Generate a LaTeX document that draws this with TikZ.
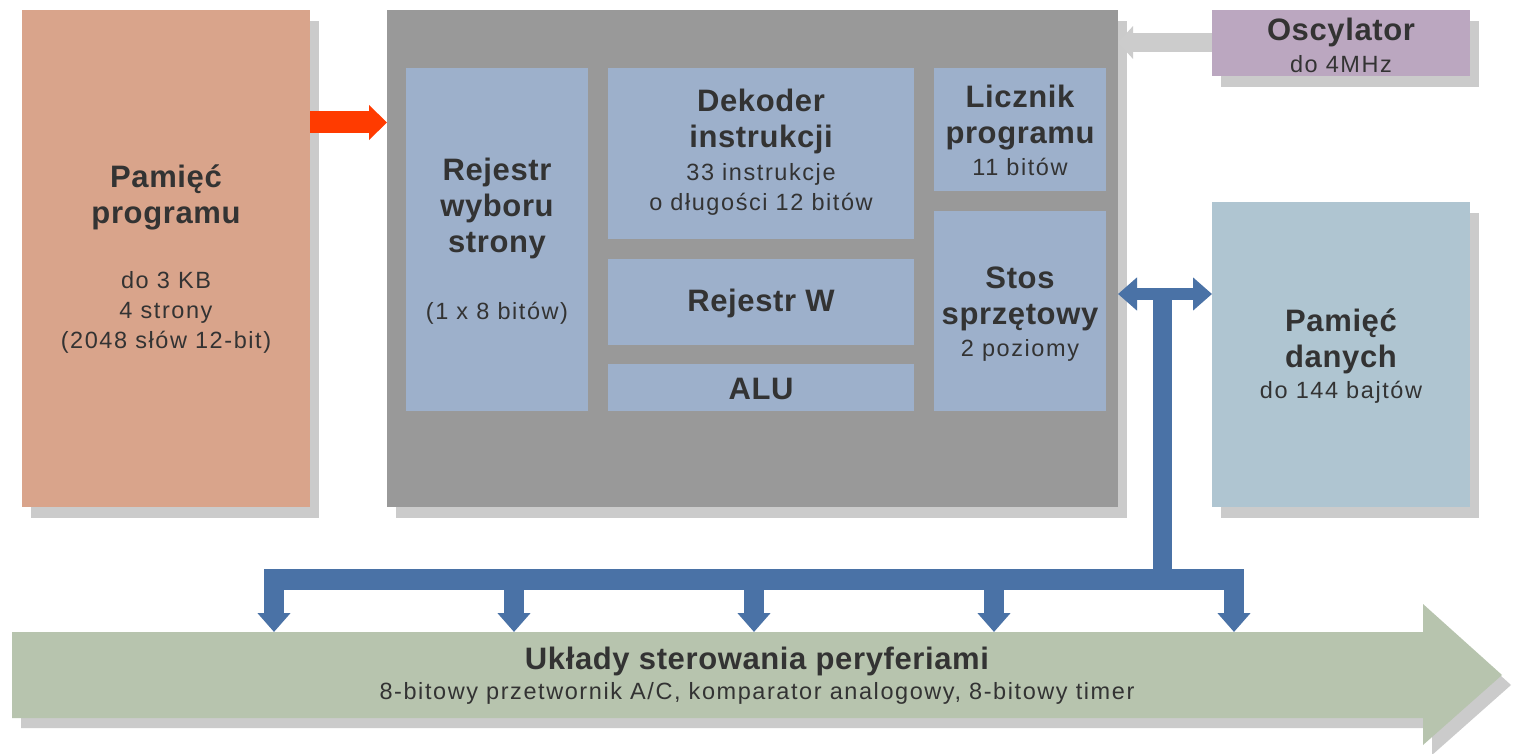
\documentclass[tikz,border=0pt]{standalone}
\usepackage{fontspec}
\setmainfont{Liberation Sans}
\newfontfamily\tfont[LetterSpace=2]{Liberation Sans}
\newfontfamily\rfont[LetterSpace=6.7]{Liberation Sans}
\usetikzlibrary{arrows.meta,shadows}
\definecolor{progc}{HTML}{D9A48B}
\definecolor{cpuc}{HTML}{999999}
\definecolor{innc}{HTML}{9DB0CB}
\definecolor{oscc}{HTML}{BBA7C0}
\definecolor{datc}{HTML}{AFC5D1}
\definecolor{perc}{HTML}{B7C4AE}
\definecolor{bluec}{HTML}{4A72A6}
\definecolor{redc}{HTML}{FF3B00}
\definecolor{grayc}{HTML}{CCCCCC}
\definecolor{shadowc}{HTML}{CBCBCB}
\definecolor{txt}{HTML}{333333}
\tikzset{
  box/.style={inner sep=0, outer sep=0, draw=none},
  shd/.style={general shadow={fill=shadowc, shadow xshift=9pt, shadow yshift=-11pt}},
  tt/.style={font=\tfont\bfseries\fontsize{31}{36}\selectfont, text=txt, anchor=base, inner sep=0},
  st/.style={font=\rfont\fontsize{23.5}{30}\selectfont, text=txt, anchor=base, inner sep=0},
  bus/.style={bluec, line width=#1},
  tipb/.style={-{Triangle[width=32pt,length=19pt]}}
}
\begin{document}
\begin{tikzpicture}[x=1pt,y=-1pt]
\useasboundingbox (0,0) rectangle (1518,754);
\fill[white] (0,0) rectangle (1518,754);
% main boxes
\node[box,shd,fill=progc,minimum width=288,minimum height=497] (prog) at (166,258.5) {};
\node[box,shd,fill=cpuc,minimum width=731,minimum height=497] (cpu) at (752.5,258.5) {};
\node[box,fill=innc,minimum width=182,minimum height=343] (rws) at (497,239.5) {};
\node[box,fill=innc,minimum width=306,minimum height=171] (dek) at (761,153.5) {};
\node[box,fill=innc,minimum width=306,minimum height=86] (rw) at (761,302) {};
\node[box,fill=innc,minimum width=306,minimum height=47] (alu) at (761,387.5) {};
\node[box,fill=innc,minimum width=172,minimum height=123] (lp) at (1020,129.5) {};
\node[box,fill=innc,minimum width=172,minimum height=200] (stos) at (1020,311) {};
\node[box,shd,fill=oscc,minimum width=258,minimum height=66] (osc) at (1341,43) {};
\node[box,shd,fill=datc,minimum width=258,minimum height=305] (dat) at (1341,354.5) {};
% peripheral arrow
\fill[shadowc, shift={(9,10)}] (12,632) -- (1423,632) -- (1423,604) -- (1502,675) -- (1423,745) -- (1423,718) -- (12,718) -- cycle;
\fill[perc] (12,632) -- (1423,632) -- (1423,604) -- (1502,675) -- (1423,745) -- (1423,718) -- (12,718) -- cycle;
\coordinate (per) at (757,632);
% connectors
\draw[redc, line width=22pt, -{Triangle[width=34pt,length=18pt]}] (prog.east |- 0,122.5) -- (cpu.west |- 0,122.5);
\draw[grayc, line width=19pt, -{Triangle[width=32pt,length=15pt]}] (osc.west |- 0,42.5) -- (cpu.east |- 0,42.5);
\draw[bus=12pt, {Triangle[width=32pt,length=19pt]}-{Triangle[width=32pt,length=19pt]}] (cpu.east |- 0,294) -- (dat.west |- 0,294);
\coordinate (stem) at (1162.5,294);
\coordinate (busl) at (264,579.5);
\coordinate (busr) at (1244,579.5);
\draw[bus=19pt] (stem) -- (stem |- busr);
\draw[bus=21pt] (busl) -- (busr);
\foreach \x in {274,514,754,994,1234}
  \draw[bus=20pt, tipb] (\x,575) -- (per -| {\x,0});
% texts
\node[tt] (p1) at (166,188) {Pamięć};
\node[tt] (p2) at (166,224) {programu};
\node[st] (p3) at (166,288) {do 3 KB};
\node[st] (p4) at (166,318) {4 strony};
\node[st] (p5) at (166,348) {(2048 słów 12-bit)};
\node[tt] (r1) at (497,181) {Rejestr};
\node[tt] (r2) at (497,217) {wyboru};
\node[tt] (r3) at (497,252) {strony};
\node[st] (r4) at (497,319) {(1 x 8 bitów)};
\node[tt] (d1) at (761,112) {Dekoder};
\node[tt] (d2) at (761,148) {instrukcji};
\node[st] (d3) at (761,181) {33 instrukcje};
\node[st] (d4) at (761,211) {o długości 12 bitów};
\node[tt] (l1) at (1020,108) {Licznik};
\node[tt] (l2) at (1020,144) {programu};
\node[st] (l3) at (1020,176) {11 bitów};
\node[tt] (w1) at (761,311) {Rejestr W};
\node[tt] (a1) at (761,399) {ALU};
\node[tt] (s1) at (1020,288) {Stos};
\node[tt] (s2) at (1020,324) {sprzętowy};
\node[st] (s3) at (1020,356) {2 poziomy};
\node[tt] (o1) at (1341,41) {Oscylator};
\node[st] (o2) at (1341,73) {do 4MHz};
\node[tt] (m1) at (1341,331) {Pamięć};
\node[tt] (m2) at (1341,367) {danych};
\node[st] (m3) at (1341,398) {do 144 bajtów};
\node[tt] (u1) at (757,669) {Układy sterowania peryferiami};
\node[st] (u2) at (757,699) {8-bitowy przetwornik A/C, komparator analogowy, 8-bitowy timer};
\end{tikzpicture}
\end{document}
